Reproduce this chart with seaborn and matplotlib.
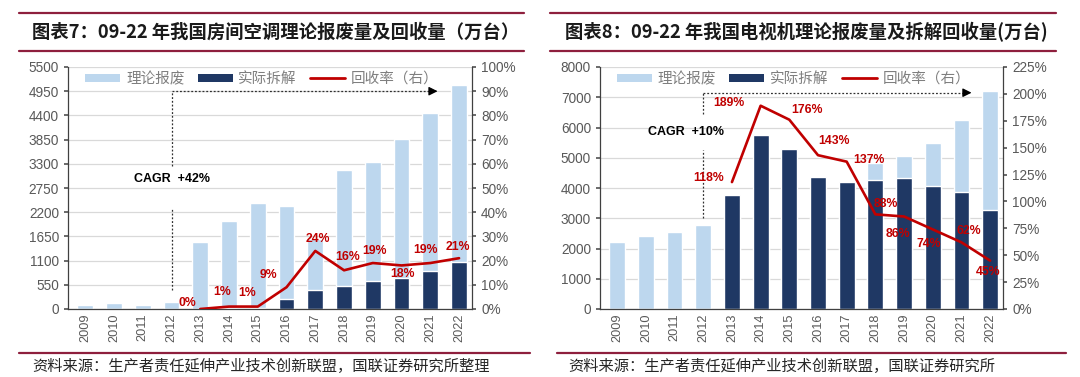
import matplotlib

matplotlib.use("Agg")
import matplotlib.pyplot as plt
import numpy as np
import seaborn as sns
from matplotlib.lines import Line2D
from matplotlib.patches import Patch

# ---- data ----
YEARS = [str(y) for y in range(2009, 2023)]

AC_THEORY = [100, 130, 90, 150, 1530, 2000, 2400, 2330, 1600, 3150, 3350, 3870, 4450, 5080]
AC_ACTUAL = [0, 0, 0, 0, 6, 20, 24, 225, 425, 530, 636, 705, 864, 1060]
AC_RATE = [np.nan, np.nan, np.nan, np.nan, 0, 1, 1, 9, 24, 16, 19, 18, 19, 21]

TV_THEORY = [2200, 2400, 2550, 2780, 3200, 3040, 3000, 3040, 3070, 4830, 5050, 5500, 6250, 7200]
TV_ACTUAL = [0, 0, 0, 0, 3780, 5750, 5280, 4350, 4200, 4250, 4330, 4060, 3880, 3270]
TV_RATE = [np.nan, np.nan, np.nan, np.nan, 118, 189, 176, 143, 137, 88, 86, 74, 62, 45]

LEGEND_LABELS = ["理论报废", "实际拆解", "回收率（右）"]
TITLES = [
    "图表7：09-22 年我国房间空调理论报废量及回收量（万台）",
    "图表8：09-22 年我国电视机理论报废量及拆解回收量(万台)",
]
SOURCES = [
    "资料来源：生产者责任延伸产业技术创新联盟，国联证券研究所整理",
    "资料来源：生产者责任延伸产业技术创新联盟，国联证券研究所",
]

# ---- styling ----
LIGHT = "#BDD7EE"
NAVY = "#1F3864"
RED = "#C00000"
MAROON = "#8E1F3D"
GREY = "#595959"
CJK = ["Noto Sans CJK SC", "DejaVu Sans"]

# label offsets in pixels (dx, dy) per point from 2013 on
AC_OFFSETS = [(-13, 6), (-7, 15), (-11, 14), (-18, 12), (3, 12), (4, 13), (2, 12), (1, -9), (-5, 13), (-1, 11)]
TV_OFFSETS = [(-23, 4), (-32, 3), (18, 10), (16, 14), (22, 2), (10, 10), (-6, -17), (-4, -15), (7, 11), (-2, -11)]

sns.set_theme(style="white")
plt.rcParams["font.family"] = ["Liberation Sans", "Noto Sans CJK SC"]


def _panel(fig, rect, theory, actual, rate, ymax, ystep, rmax, rstep, offsets, cagr, arrow):
    ax = fig.add_axes(rect)
    ax.set_axisbelow(True)
    ax.yaxis.grid(True, color="#D9D9D9", linewidth=0.9)
    sns.barplot(x=YEARS, y=theory, color=LIGHT, saturation=1, width=0.55, ax=ax)
    sns.barplot(x=YEARS, y=actual, color=NAVY, saturation=1, width=0.55, ax=ax)
    ax.set_ylim(0, ymax)
    ax.set_yticks(np.arange(0, ymax + 1, ystep))
    ax.set_xlim(-0.6, 13.45)
    ax.tick_params(axis="x", rotation=90, labelsize=9.2, colors=GREY, length=0, pad=3)
    ax.tick_params(axis="y", labelsize=9.8, colors=GREY, length=3, direction="out", left=True)
    for s in ["left", "bottom"]:
        ax.spines[s].set_color("#404040")
        ax.spines[s].set_linewidth(0.9)
    ax.spines["top"].set_visible(False)
    ax.spines["right"].set_visible(False)
    ax.set_xlabel("")
    ax.set_ylabel("")

    # CAGR marker: dotted vertical at 2012 with text gap, dotted arrow to 2022
    x0 = 3
    (y_lo, y_gap_lo, y_gap_hi, y_top), x_end = arrow
    ax.plot([x0, x0], [y_lo, y_gap_lo], ls=(0, (1.5, 1.5)), color="#303030", lw=0.9)
    ax.plot([x0, x0], [y_gap_hi, y_top], ls=(0, (1.5, 1.5)), color="#303030", lw=0.9)
    ax.plot([x0, x_end - 0.25], [y_top, y_top], ls=(0, (1.5, 1.5)), color="#303030", lw=0.9)
    ax.annotate("", xy=(x_end, y_top), xytext=(x_end - 0.3, y_top),
                arrowprops=dict(arrowstyle="-|>", color="black", lw=0.9, mutation_scale=13))
    ax.text(cagr[1], cagr[2], cagr[0], ha="center", va="center", fontsize=9,
            fontweight="bold", color="black")

    ax2 = ax.twinx()
    idx = np.arange(len(YEARS))
    sns.lineplot(x=idx, y=rate, color=RED, linewidth=1.9, ax=ax2)
    ax2.set_ylim(0, rmax)
    ax2.set_yticks(np.arange(0, rmax + 0.1, rstep))
    ax2.set_yticklabels([f"{v:.0f}%" for v in np.arange(0, rmax + 0.1, rstep)])
    ax2.tick_params(axis="y", labelsize=9.8, colors=GREY, length=3, direction="out", right=True)
    ax2.spines["right"].set_color("#404040")
    ax2.spines["right"].set_linewidth(0.9)
    for s in ["top", "left", "bottom"]:
        ax2.spines[s].set_visible(False)
    ax2.set_xlim(-0.6, 13.45)
    ax2.set_ylabel("")

    pts = [(i, r) for i, r in zip(idx, rate) if not np.isnan(r)]
    for (i, r), (dx, dy) in zip(pts, offsets):
        ax2.annotate(f"{r:.0f}%", xy=(i, r), xytext=(dx, dy), textcoords="offset pixels",
                     ha="center", va="center", fontsize=8.8, fontweight="bold", color=RED)

    handles = [
        Patch(facecolor=LIGHT, edgecolor="none"),
        Patch(facecolor=NAVY, edgecolor="none"),
        Line2D([], [], color=RED, lw=2),
    ]
    leg = ax2.legend(handles, LEGEND_LABELS, loc="upper center", bbox_to_anchor=(0.48, 1.005),
                     ncol=3, frameon=False, handlelength=2.4, handleheight=0.5,
                     columnspacing=0.9, handletextpad=0.4, borderaxespad=0,
                     prop={"family": CJK, "size": 10.5})
    for t in leg.get_texts():
        t.set_color("#7F7F7F")
    return ax, ax2


fig = plt.figure(figsize=(10.8, 3.77), dpi=100)

_panel(fig, [68 / 1080, 68 / 377, 404 / 1080, 242 / 377], AC_THEORY, AC_ACTUAL, AC_RATE,
       5500, 550, 100, 10, AC_OFFSETS, ("CAGR  +42%", 3, 2950),
       ((430, 2300, 3250, 4950), 12.35))
_panel(fig, [600 / 1080, 68 / 377, 403 / 1080, 242 / 377], TV_THEORY, TV_ACTUAL, TV_RATE,
       8000, 1000, 225, 25, TV_OFFSETS, ("CAGR  +10%", 2.4, 5850),
       ((3000, 5270, 6430, 7150), 12.45))

# header / footer rules and texts
for (x0, x1), (bx0, bx1), title, src, tx, sx in [
    ((19, 524), (19, 530), TITLES[0], SOURCES[0], 32, 32),
    ((550, 1056), (557, 1066), TITLES[1], SOURCES[1], 565, 568),
]:
    for y in (13, 51):
        fig.add_artist(Line2D([x0 / 1080, x1 / 1080], [1 - y / 377] * 2, color=MAROON, lw=1.6))
    fig.add_artist(Line2D([bx0 / 1080, bx1 / 1080], [1 - 353 / 377] * 2, color=MAROON, lw=1.6))
    fig.text(tx / 1080, 1 - 32 / 377, title, ha="left", va="center", fontsize=13.2,
             fontweight="bold", family=CJK, color="#1A1A1A")
    fig.text(sx / 1080, 1 - 366 / 377, src, ha="left", va="center", fontsize=11,
             family=CJK, color="#262626")

fig.savefig("out.png", dpi=100)
